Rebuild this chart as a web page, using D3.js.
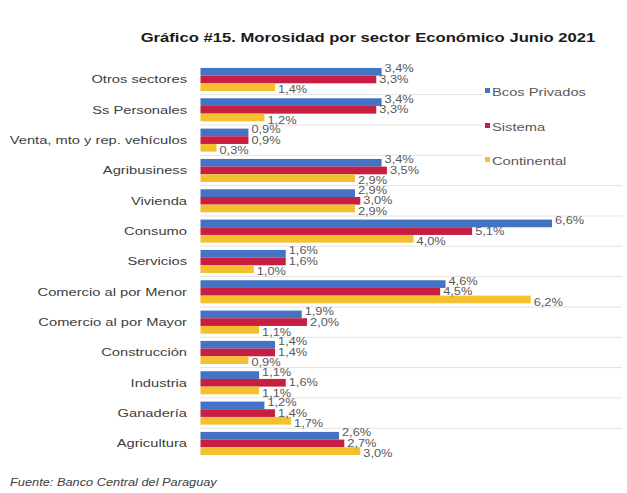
<!DOCTYPE html>
<html>
<head>
<meta charset="utf-8">
<script src="https://cdn.jsdelivr.net/npm/d3@7"></script>
<style>
  body { margin: 0; background: #fff; font-family: "Liberation Sans", Arial, sans-serif; }
  svg { display: block; }
</style>
</head>
<body>
<div id="container"><svg></svg></div>
<script>
let width = 627;
let height = 493;

// data
let sectors = ['Otros sectores', 'Ss Personales', 'Venta, mto y rep. vehículos', 'Agribusiness',
    'Vivienda', 'Consumo', 'Servicios', 'Comercio al por Menor', 'Comercio al por Mayor',
    'Construcción', 'Industria', 'Ganadería', 'Agricultura'];
let series = ['Bcos Privados', 'Sistema', 'Continental'];
let bcosPrivados = [3.4, 3.4, 0.9, 3.4, 2.9, 6.6, 1.6, 4.6, 1.9, 1.4, 1.1, 1.2, 2.6];
let sistema      = [3.3, 3.3, 0.9, 3.5, 3.0, 5.1, 1.6, 4.5, 2.0, 1.4, 1.6, 1.4, 2.7];
let continental  = [1.4, 1.2, 0.3, 2.9, 2.9, 4.0, 1.0, 6.2, 1.1, 0.9, 1.1, 1.7, 3.0];
let colors = ['#4472C4', '#C81E41', '#F4C02F'];

let values = [bcosPrivados, sistema, continental];
let rows = [];
sectors.forEach((s, i) => {
    series.forEach((k, j) => rows.push({sector: s, serie: k, j: j, value: values[j][i]}));
});

// the picture is stretched sideways, so text is too
let sx = 1.28;
function stretched(g, x, y, txt) {
    return g.append('text')
        .attr('transform', `translate(${x}, ${y}) scale(${sx}, 1)`)
        .text(txt);
}

let svg = d3.select('#container').select('svg')
    .attr('width', width)
    .attr('height', height);

svg.append('rect').attr('width', width).attr('height', height).attr('fill', '#fff');

let x = d3.scaleLinear()
    .domain([0, 7])
    .range([200.5, 200.5 + 7 * 53.26]);

let y = d3.scaleBand()
    .domain(sectors)
    .range([64.3, 458.6])
    .paddingInner(0.24)
    .paddingOuter(0.12);

let ySub = d3.scaleBand()
    .domain(series)
    .range([0, y.bandwidth()]);

// separators between categories
let gap = (y.step() - y.bandwidth()) / 2;
svg.append('g')
    .selectAll('line')
    .data(sectors.slice(1))
    .enter().append('line')
    .attr('x1', 200)
    .attr('x2', 622)
    .attr('y1', d => y(d) - gap)
    .attr('y2', d => y(d) - gap)
    .attr('stroke', '#e3e3e3')
    .attr('stroke-width', 1);

// bars
svg.append('g')
    .selectAll('rect')
    .data(rows)
    .enter().append('rect')
    .attr('x', x(0))
    .attr('y', d => y(d.sector) + ySub(d.serie))
    .attr('width', d => x(d.value) - x(0))
    .attr('height', ySub.bandwidth())
    .attr('fill', d => colors[d.j]);

// value labels
let lab = svg.append('g')
    .attr('font-size', '10px')
    .attr('fill', '#595959');
rows.forEach(d => {
    let cy = y(d.sector) + y.bandwidth() / 2 + (d.j - 1) * 10.5;
    stretched(lab, x(d.value) + 3, cy + 3.5, d3.format('.1f')(d.value).replace('.', ',') + '%');
});

// category labels
let cat = svg.append('g')
    .attr('font-size', '11.5px')
    .attr('fill', '#404040')
    .attr('text-anchor', 'end');
sectors.forEach(s => {
    stretched(cat, 187, y(s) + y.bandwidth() / 2 + 4, s);
});

// title
let title = svg.append('g')
    .attr('font-size', '13px')
    .attr('font-weight', 'bold')
    .attr('fill', '#1a1a1a')
    .attr('text-anchor', 'middle');
stretched(title, 368, 42, 'Gráfico #15. Morosidad por sector Económico Junio 2021');

// legend
let legend = svg.append('g');
legend.append('rect')
    .attr('x', 482).attr('y', 80).attr('width', 145).attr('height', 92)
    .attr('fill', '#fff');
let legY = [92, 127, 161];
series.forEach((s, j) => {
    legend.append('rect')
        .attr('x', 485).attr('y', legY[j] - 4)
        .attr('width', 5).attr('height', 5)
        .attr('fill', colors[j]);
    let t = stretched(legend, 492, legY[j] + 4, s);
    t.attr('font-size', '11.5px').attr('fill', '#595959');
});

// source
let src = svg.append('g')
    .attr('font-size', '10px')
    .attr('font-style', 'italic')
    .attr('fill', '#404040');
stretched(src, 10, 486, 'Fuente: Banco Central del Paraguay');
</script>
</body>
</html>
